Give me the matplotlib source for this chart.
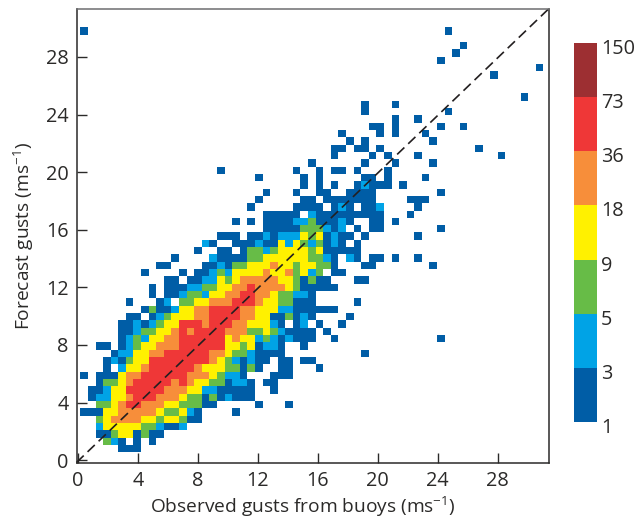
import matplotlib
matplotlib.use('Agg')
import matplotlib.pyplot as plt
import numpy as np
from matplotlib.colors import BoundaryNorm, ListedColormap
from matplotlib.transforms import ScaledTranslation

plt.rcParams['font.family'] = ['Open Sans', 'DejaVu Sans']
plt.rcParams['mathtext.default'] = 'regular'

TEXT = '#2b2a29'

# colour bar classes
bin_edges = [1, 3, 5, 9, 18, 36, 73, 150]
bin_colours = ['#005da6', '#00a3e6', '#67bc47', '#fff100', '#f78e3a', '#ef3737', '#9d2f32']
# a typical count for each class, digit 0 is an empty cell
class_counts = [0, 2, 4, 7, 13, 27, 54, 110]

# histogram cell size and where the first cell starts, in m/s
bin_x0, bin_dx = -0.36, 0.5067
bin_y0, bin_dy = -0.47, 0.5088

x_ticks = [0, 4, 8, 12, 16, 20, 24, 28]
y_ticks = [0, 4, 8, 12, 16, 20, 24, 28]

# row number -> (first column, class digit of each column from there on)
gust_rows = {
    2: [(6, "111")],
    3: [(4, "3210101")],
    4: [(3, "113441311")],
    5: [(3, "244444332112")],
    6: [(3, "34555544344311")],
    7: [(1, "111" "44" "55555" "4" "33" "4" "2" "1"), (21, "1")],
    8: [(3, "33" "4" "5" "66" "555" "44" "333" "11"), (24, "1"), (28, "1")],
    9: [(2, "1" "22" "44" "5" "666" "555" "4" "33" "1" "3" "1" "2" "111")],
    10: [(2, "11" "2" "44" "66666" "555" "44" "22" "11111"), (26, "1")],
    11: [(3, "1" "33" "4" "5" "66666" "5" "6" "5" "44" "33" "1" "22" "1" "0" "11")],
    12: [(1, "1"), (3, "111" "4" "55" "666666" "555" "4" "3" "22" "1"), (26, "111")],
    13: [(4, "1" "0" "2" "44" "5" "666666" "5" "444" "33" "1" "3" "1"), (27, "11"), (32, "1")],
    14: [(4, "1" "2" "1" "3" "44" "66666666" "5" "4" "3" "2" "1" "2" "11"), (27, "11"), (30, "11")],
    15: [(5, "1" "22" "44" "55" "666666" "55" "4" "33" "2" "1111"), (38, "1")],
    16: [(3, "11"), (6, "1" "2" "3" "44" "555" "666666" "44" "3" "4" "1" "22" "1"), (30, "1")],
    17: [(6, "1" "2" "3" "2" "44" "55" "666666" "4" "5" "44" "2" "3" "2" "1" "2" "111"), (34, "1"), (48, "1")],
    18: [(6, "11" "2" "33" "44" "5" "6" "5" "6666" "555" "3" "3" "4" "3" "2" "1111"), (33, "1")],
    19: [(6, "11" "2" "1" "2" "3" "44" "666" "5" "666" "55" "444" "2" "1" "0" "1" "2" "0" "1"), (35, "1")],
    20: [(7, "11" "0" "1" "2" "3" "444" "55" "6666" "55" "44" "11" "3" "1" "2" "1"), (36, "1")],
    21: [(9, "1" "3" "11" "2" "44" "55" "6666" "55" "444" "22" "111111")],
    22: [(7, "1"), (11, "1" "2" "0" "33" "44" "555" "666" "5" "44" "33" "111"), (37, "1")],
    23: [(10, "1" "0" "11" "2" "33" "2" "44" "55" "66" "55" "4" "33" "22" "1")],
    24: [(10, "1" "0" "111" "22" "33" "44" "55" "6" "5555" "4" "3" "11111")],
    25: [(12, "11" "0" "11" "22" "4" "3" "4" "55555" "44" "3" "1" "3" "11"), (37, "11")],
    26: [(9, "1"), (14, "1" "0" "11" "2" "3" "2" "4444" "5" "44" "5" "3" "4" "2" "3" "0" "11")],
    27: [(11, "11"), (17, "11" "2" "1" "33" "444" "5" "44" "3" "44" "33" "1"), (38, "11"), (47, "1")],
    28: [(13, "1"), (18, "2" "1111" "33" "444444" "33" "2" "1" "0" "2" "1"), (39, "11"), (42, "1"), (45, "1")],
    29: [(16, "1"), (19, "11" "0" "1" "33" "2" "3" "4444" "3" "4" "11111")],
    30: [(17, "2" "1" "00" "111" "2" "11" "4" "2" "4" "3" "2" "3" "1" "2" "1" "0" "1")],
    31: [(19, "111" "0" "11" "2" "1" "222" "4" "3" "4" "1" "2" "11" "0" "1"), (45, "1")],
    32: [(25, "11111" "333" "2" "1" "2" "0" "1" "0" "11"), (48, "1")],
    33: [(21, "1" "0" "1" "0" "1111" "22" "3" "111" "2" "1" "00" "11" "0" "1")],
    34: [(25, "11111" "0" "2" "111111111"), (44, "1")],
    35: [(23, "1"), (29, "1111" "0" "1" "2" "1" "0" "11" "2"), (45, "1")],
    36: [(24, "1"), (30, "11" "0" "1111111"), (44, "111")],
    37: [(25, "1"), (29, "1"), (32, "11"), (36, "1111"), (48, "1")],
    38: [(30, "1"), (32, "1"), (34, "1"), (37, "1" "2" "111"), (43, "1")],
    39: [(24, "1"), (30, "1"), (32, "1"), (38, "11"), (41, "1"), (46, "1")],
    40: [(19, "1"), (29, "1"), (32, "1"), (34, "11"), (37, "1"), (41, "1")],
    41: [(31, "1"), (38, "1"), (42, "1"), (47, "1")],
    42: [(34, "1"), (39, "1"), (41, "1"), (45, "1"), (56, "1")],
    43: [(34, "11"), (37, "11"), (40, "1"), (53, "1")],
    44: [(36, "1"), (38, "1"), (47, "1")],
    45: [(35, "1"), (40, "1"), (42, "1"), (46, "1")],
    46: [(39, "11"), (42, "1"), (48, "1"), (51, "1")],
    47: [(42, "1"), (45, "1")],
    48: [(38, "1"), (49, "1")],
    49: [(38, "1"), (42, "1")],
    50: [(59, "1")],
    53: [(55, "1")],
    54: [(61, "1")],
    55: [(48, "1")],
    56: [(50, "1")],
    57: [(51, "1")],
    59: [(1, "1"), (49, "1")],
}

counts = np.zeros((60, 62))
for row, segments in gust_rows.items():
    for first, digits in segments:
        for i, d in enumerate(digits):
            counts[row, first + i] = class_counts[int(d)]

x_edges = bin_x0 + bin_dx * np.arange(counts.shape[1] + 1)
y_edges = bin_y0 + bin_dy * np.arange(counts.shape[0] + 1)

fig = plt.figure(figsize=(6.38, 5.19), dpi=100)
ax = fig.add_axes([76.5 / 638, 56.5 / 519, 472 / 638, 453.5 / 519])
cax = fig.add_axes([574 / 638, 97.3 / 519, 23 / 638, 378.4 / 519])

cmap = ListedColormap(bin_colours)
norm = BoundaryNorm(bin_edges, cmap.N)
mesh = ax.pcolormesh(x_edges, y_edges, np.ma.masked_equal(counts, 0), cmap=cmap, norm=norm)

ax.plot([0, 1], [0, 1], transform=ax.transAxes, color='#231f20', lw=1.2, dashes=(6, 3.2), clip_on=False)

ax.set_xlim(-0.11, 31.4)
ax.set_ylim(-0.16, 31.33)
ax.set_xticks(x_ticks)
ax.set_yticks(y_ticks)
ax.tick_params(direction='in', length=7, width=1, color=TEXT, labelsize=14.3, labelcolor=TEXT)
ax.tick_params(axis='x', pad=6)
ax.tick_params(axis='y', pad=5.5)
for side in ax.spines.values():
    side.set_linewidth(1.1)
    side.set_color(TEXT)
ax.spines['top'].set_color('#6d6e70')

ax.set_xlabel('Observed gusts from buoys (ms$^{-1}$)', fontsize=13.8, color=TEXT, labelpad=3, x=(303 - 76.5) / 472)
ax.set_ylabel('Forecast gusts (ms$^{-1}$)', fontsize=13.8, color=TEXT, labelpad=7)

cbar = fig.colorbar(mesh, cax=cax, spacing='uniform', ticks=bin_edges)
cbar.outline.set_visible(False)
cax.tick_params(length=0, pad=3, labelsize=14.3, labelcolor=TEXT)
shift = ScaledTranslation(0, -3.5 / 100, fig.dpi_scale_trans)
for label in cax.get_yticklabels():
    label.set_transform(label.get_transform() + shift)

fig.savefig('out.png', dpi=100)
